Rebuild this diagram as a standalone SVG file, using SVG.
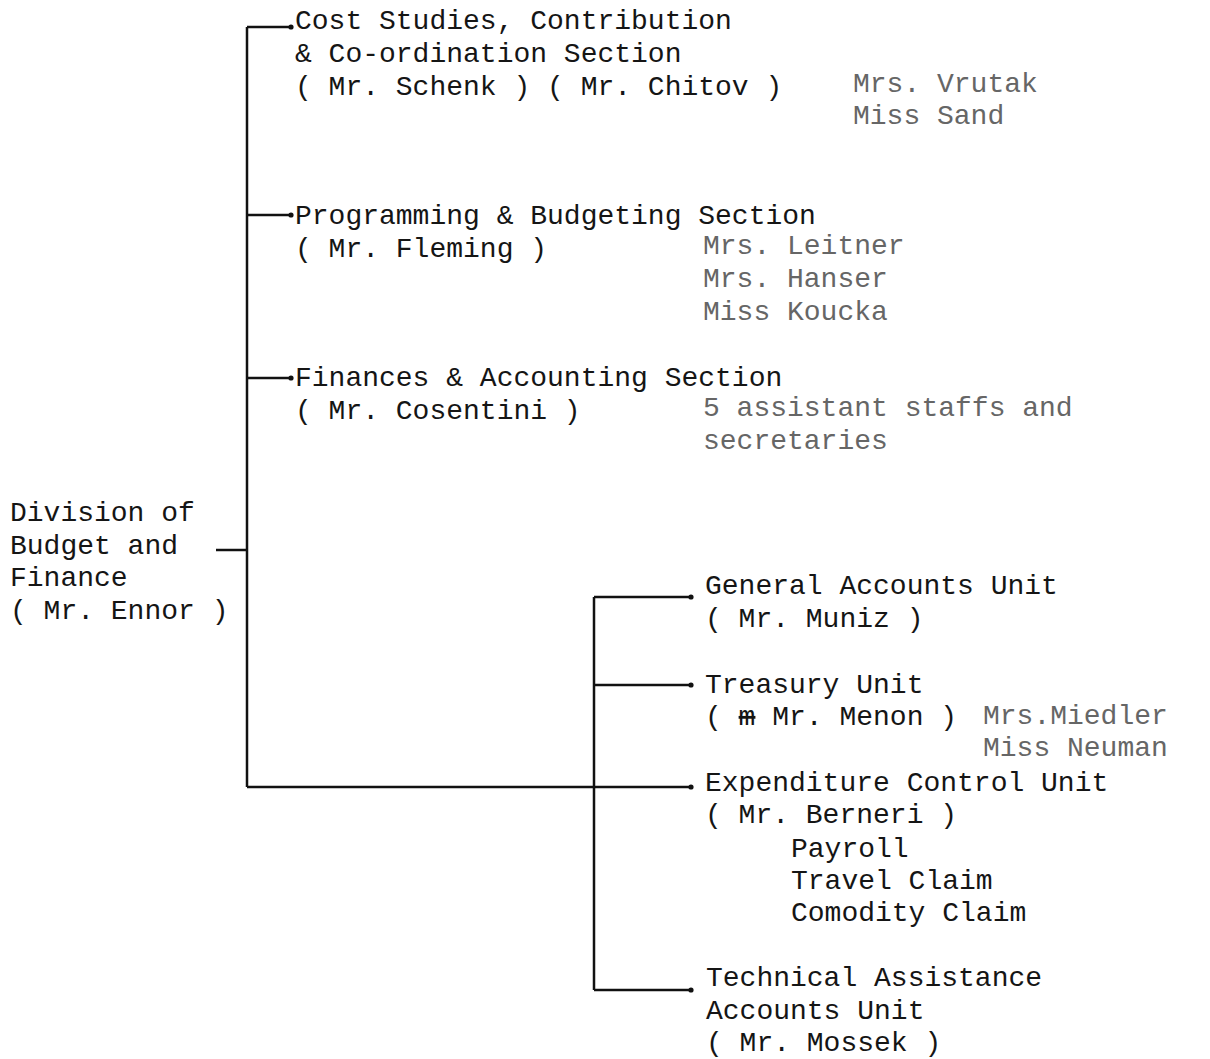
<svg xmlns="http://www.w3.org/2000/svg" width="1210" height="1059" viewBox="0 0 1210 1059">
<style>
text{font-family:"Liberation Mono","DejaVu Sans Mono",monospace;font-size:28px;fill:#151515}
.f{fill:#666}
.ln{stroke:#111;stroke-width:2.5;fill:none}
</style>
<defs>
<marker id="dot" viewBox="0 0 6 6" refX="3" refY="3" markerWidth="6" markerHeight="6" markerUnits="userSpaceOnUse">
<circle cx="3" cy="3" r="2.6" fill="#111"/>
</marker>
</defs>
<rect width="1210" height="1059" fill="#fff"/>
<g id="connectors">
<path class="ln" d="M247 27V787"/>
<path class="ln" d="M216 550H247"/>
<path class="ln" d="M247 27H291" marker-end="url(#dot)"/>
<path class="ln" d="M247 215H291" marker-end="url(#dot)"/>
<path class="ln" d="M247 378H291" marker-end="url(#dot)"/>
<path class="ln" d="M247 787H691" marker-end="url(#dot)"/>
<path class="ln" d="M594 597V990"/>
<path class="ln" d="M594 597H691" marker-end="url(#dot)"/>
<path class="ln" d="M594 685H691" marker-end="url(#dot)"/>
<path class="ln" d="M594 990H691" marker-end="url(#dot)"/>
</g>
<g id="division">
<text x="10" y="521">Division of</text>
<text x="10" y="554">Budget and</text>
<text x="10" y="586">Finance</text>
<text x="10" y="619">( Mr. Ennor )</text>
</g>
<g id="cost-studies">
<text x="295" y="29">Cost Studies, Contribution</text>
<text x="295" y="62">&amp; Co-ordination Section</text>
<text x="295" y="95">( Mr. Schenk ) ( Mr. Chitov )</text>
<text class="f" x="853" y="92">Mrs. Vrutak</text>
<text class="f" x="853" y="124">Miss Sand</text>
</g>
<g id="programming">
<text x="295" y="224">Programming &amp; Budgeting Section</text>
<text x="295" y="257">( Mr. Fleming )</text>
<text class="f" x="703" y="254">Mrs. Leitner</text>
<text class="f" x="703" y="287">Mrs. Hanser</text>
<text class="f" x="703" y="320">Miss Koucka</text>
</g>
<g id="finances">
<text x="295" y="386">Finances &amp; Accounting Section</text>
<text x="295" y="419">( Mr. Cosentini )</text>
<text class="f" x="703" y="416">5 assistant staffs and</text>
<text class="f" x="703" y="449">secretaries</text>
</g>
<g id="general-accounts">
<text x="705" y="594">General Accounts Unit</text>
<text x="705" y="627">( Mr. Muniz )</text>
</g>
<g id="treasury">
<text x="705" y="693">Treasury Unit</text>
<text x="705" y="725">( <tspan text-decoration="line-through">m</tspan> Mr. Menon )</text>
<text class="f" x="983" y="724">Mrs.Miedler</text>
<text class="f" x="983" y="756">Miss Neuman</text>
</g>
<g id="expenditure">
<text x="705" y="791">Expenditure Control Unit</text>
<text x="705" y="823">( Mr. Berneri )</text>
<text x="791" y="857">Payroll</text>
<text x="791" y="889">Travel Claim</text>
<text x="791" y="921">Comodity Claim</text>
</g>
<g id="technical">
<text x="706" y="986">Technical Assistance</text>
<text x="706" y="1019">Accounts Unit</text>
<text x="706" y="1051">( Mr. Mossek )</text>
</g>
</svg>
